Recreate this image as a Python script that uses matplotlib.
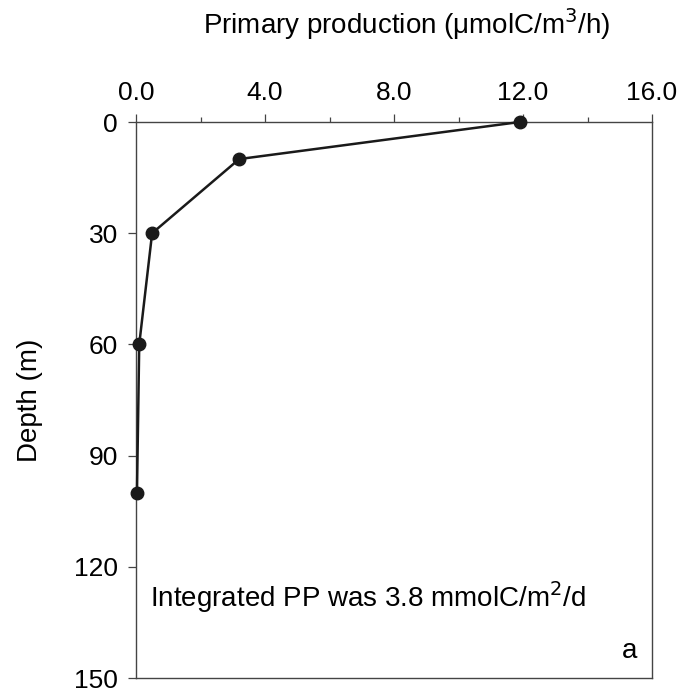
import matplotlib
matplotlib.use('Agg')
import matplotlib.pyplot as plt
from matplotlib.ticker import MultipleLocator

plt.rcParams['font.family'] = ['Liberation Sans', 'DejaVu Sans']

production = [11.9, 3.2, 0.5, 0.1, 0.03]
depth = [0, 10, 30, 60, 100]
x_ticks = [0, 4, 8, 12, 16]
x_tick_labels = ['0.0', '4.0', '8.0', '12.0', '16.0']
y_ticks = [0, 30, 60, 90, 120, 150]

fig = plt.figure(figsize=(6.96, 6.91), dpi=100)
ax = fig.add_axes([136/696, 1 - 678/691, 516/696, 556/691])

ax.plot(production, depth, color='#1a1a1a', linewidth=1.8, marker='o',
        markersize=9, clip_on=False, zorder=3)

ax.set_xlim(0, 16)
ax.set_ylim(150, 0)
ax.xaxis.tick_top()
ax.xaxis.set_label_position('top')
ax.set_xticks(x_ticks)
ax.set_xticklabels(x_tick_labels)
ax.xaxis.set_minor_locator(MultipleLocator(2))
ax.set_yticks(y_ticks)

ax.tick_params(axis='x', which='major', direction='out', length=6, width=0.9,
               labelsize=19, colors='#444444', labelcolor='black', pad=6)
ax.tick_params(axis='x', which='minor', direction='out', length=3.5, width=0.9,
               colors='#444444')
ax.tick_params(axis='y', which='major', direction='out', length=6, width=0.9,
               labelsize=19, colors='#444444', labelcolor='black', pad=7)

for s in ax.spines.values():
    s.set_color('#444444')
    s.set_linewidth(1.0)

ax.set_xlabel('Primary production (\u03bcmolC/m$^3$/h)', fontsize=20, va='baseline')
ax.xaxis.set_label_coords(0.525, (678 - 34) / 556)
ax.set_ylabel('Depth (m)', fontsize=20, va='center')
ax.yaxis.set_label_coords((30 - 136) / 516, 0.5)

ax.text(0.027, (678 - 607) / 556, 'Integrated PP was 3.8 mmolC/m$^2$/d',
        transform=ax.transAxes, fontsize=20, ha='left', va='baseline')
ax.text(0.971, (678 - 658) / 556, 'a', transform=ax.transAxes, fontsize=20,
        ha='right', va='baseline')

fig.savefig('out.png', dpi=100)
